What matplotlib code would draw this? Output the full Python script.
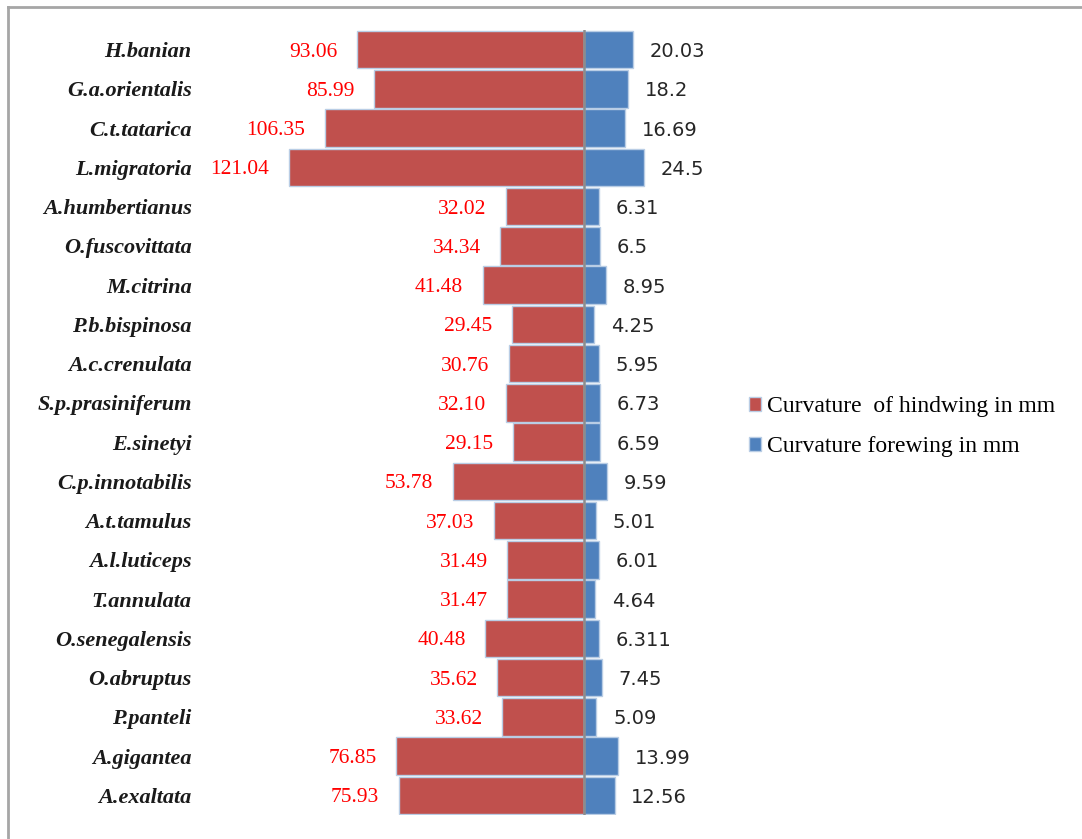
import matplotlib.pyplot as plt
from matplotlib.patches import Patch
from matplotlib.lines import Line2D
import numpy as np

# species top -> bottom
species = ["H.banian", "G.a.orientalis", "C.t.tatarica", "L.migratoria",
           "A.humbertianus", "O.fuscovittata", "M.citrina", "P.b.bispinosa",
           "A.c.crenulata", "S.p.prasiniferum", "E.sinetyi", "C.p.innotabilis",
           "A.t.tamulus", "A.l.luticeps", "T.annulata", "O.senegalensis",
           "O.abruptus", "P.panteli", "A.gigantea", "A.exaltata"]
hindwing = [93.06, 85.99, 106.35, 121.04, 32.02, 34.34, 41.48, 29.45, 30.76, 32.10,
            29.15, 53.78, 37.03, 31.49, 31.47, 40.48, 35.62, 33.62, 76.85, 75.93]
hind_labels = ["93.06", "85.99", "106.35", "121.04", "32.02", "34.34", "41.48", "29.45",
               "30.76", "32.10", "29.15", "53.78", "37.03", "31.49", "31.47", "40.48",
               "35.62", "33.62", "76.85", "75.93"]
forewing = [20.03, 18.2, 16.69, 24.5, 6.31, 6.5, 8.95, 4.25, 5.95, 6.73,
            6.59, 9.59, 5.01, 6.01, 4.64, 6.311, 7.45, 5.09, 13.99, 12.56]
fore_labels = ["20.03", "18.2", "16.69", "24.5", "6.31", "6.5", "8.95", "4.25", "5.95",
               "6.73", "6.59", "9.59", "5.01", "6.01", "4.64", "6.311", "7.45", "5.09",
               "13.99", "12.56"]

RED = "#C0504D"
BLUE = "#4F81BD"
EDGE = "#B9CDE5"

W, H = 1082, 839
fig = plt.figure(figsize=(W / 100, H / 100), dpi=100)

# axes in pixel terms
ax_l, ax_r, ax_t, ax_b = 200, 720, 30, 815
ax = fig.add_axes([ax_l / W, 1 - ax_b / H, (ax_r - ax_l) / W, (ax_b - ax_t) / H])

px_per_unit = 2.44
center = 584
ax.set_xlim(-(center - ax_l) / px_per_unit, (ax_r - center) / px_per_unit)

y = np.arange(len(species))
ax.barh(y, [-v for v in hindwing], height=0.95, color=RED, edgecolor=EDGE, linewidth=1)
ax.barh(y, forewing, height=0.95, color=BLUE, edgecolor=EDGE, linewidth=1)
ax.axvline(0, color="#8C8C8C", lw=1.8)

for i in range(len(species)):
    ax.annotate(hind_labels[i], (-hindwing[i], i), xytext=(-14, 0), textcoords="offset points",
                ha="right", va="center_baseline", color="#FF0000", fontsize=15.5,
                family="Liberation Serif")
    ax.annotate(fore_labels[i], (forewing[i], i), xytext=(12, 0), textcoords="offset points",
                ha="left", va="center_baseline", color="#262626", fontsize=14,
                family="DejaVu Sans")

ax.set_ylim(len(species) - 0.5, -0.5)
ax.set_yticks(y)
ax.set_yticklabels(species, family="Liberation Serif", fontweight="bold",
                   fontstyle="italic", fontsize=16, color="#1a1a1a")
ax.tick_params(axis="y", length=0, pad=6)
ax.set_xticks([])
for s in ax.spines.values():
    s.set_visible(False)

handles = [Patch(facecolor=RED, edgecolor=EDGE, label="Curvature  of hindwing in mm"),
           Patch(facecolor=BLUE, edgecolor=EDGE, label="Curvature forewing in mm")]
fig.legend(handles=handles, loc="upper left", bbox_to_anchor=(740 / W, 1 - 387 / H),
           frameon=False, prop={"family": "Liberation Serif", "size": 17},
           handlelength=0.5, handleheight=0.5, handletextpad=0.25, labelspacing=0.8,
           borderaxespad=0)

# outer frame (top and left edges visible)
fig.add_artist(Line2D([8 / W, 1], [1 - 7 / H, 1 - 7 / H], color="#A6A6A6", lw=2))
fig.add_artist(Line2D([8 / W, 8 / W], [0, 1 - 7 / H], color="#A6A6A6", lw=2))

fig.savefig("out.png", dpi=100)
